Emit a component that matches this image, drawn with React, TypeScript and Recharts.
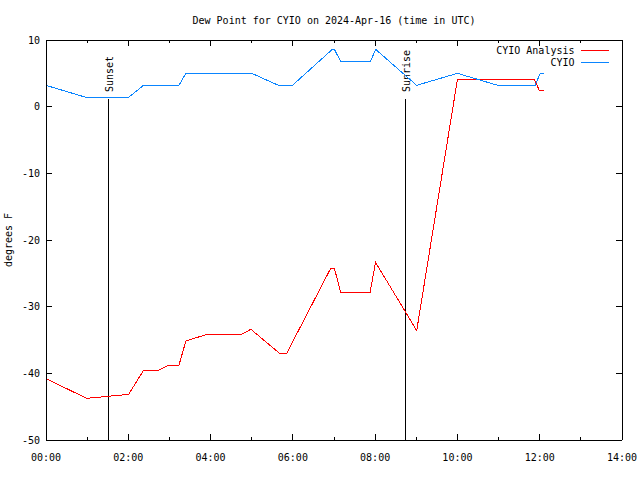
import React from 'react';
import { LineChart, Line, XAxis, YAxis, ReferenceLine } from 'recharts';

// ---- data ----
const TITLE = 'Dew Point for CYIO on 2024-Apr-16 (time in UTC)';
const Y_LABEL = 'degrees F';

const xTicks = [0, 1, 2, 3, 4, 5, 6, 7, 8, 9, 10, 11, 12, 13, 14];
const yTicks = [-50, -40, -30, -20, -10, 0, 10];

const analysisName = 'CYIO Analysis';
const analysisTimes = [0, 0.99, 2.01, 2.37, 2.73, 2.97, 3.23, 3.4, 3.94, 4.77, 4.98, 5.67, 5.85, 6.92, 7.01, 7.16, 7.88, 8.01, 9.01, 10.0, 11.87, 11.99, 12.1];
const analysisValues = [-40.8, -43.75, -43.15, -39.55, -39.55, -38.8, -38.8, -35.15, -34.1, -34.1, -33.4, -36.95, -37.0, -24.25, -24.25, -27.8, -27.8, -23.35, -33.6, 4.1, 4.1, 2.45, 2.45];

const obsName = 'CYIO';
const obsTimes = [0, 0.97, 2.01, 2.37, 3.23, 3.4, 5.0, 5.65, 5.99, 6.96, 7.01, 7.16, 7.89, 8.01, 9.01, 10.0, 10.98, 11.89, 12.01, 12.1];
const obsValues = [3.2, 1.4, 1.4, 3.2, 3.2, 5.0, 5.0, 3.2, 3.2, 8.6, 8.6, 6.8, 6.8, 8.6, 3.2, 5.0, 3.2, 3.2, 5.0, 5.0];

const sunEvents = ['Sunset', 'Sunrise'];
const sunTimes = [1.514, 8.733];
const sunLineTop = 1.15;

const RED = '#ff0000';
const BLUE = '#0a85ff';
const FONT = '"DejaVu Sans Mono", monospace';

const analysisData = analysisTimes.map((t, i) => ({ t, v: analysisValues[i] }));
const obsData = obsTimes.map((t, i) => ({ t, v: obsValues[i] }));

const fmtHour = (h: number) => `${String(h).padStart(2, '0')}:00`;

const BottomTick = (props: any) => {
  const { x, y, payload } = props;
  const h = payload.value;
  const major = h % 2 === 0;
  return (
    <g>
      <line x1={x} x2={x} y1={y} y2={y - (major ? 6 : 3)} stroke="#000" shapeRendering="crispEdges" />
      {major && (
        <text x={x} y={y + 20.5} textAnchor="middle" fontSize={10} fontFamily={FONT} fill="#000">
          {fmtHour(h)}
        </text>
      )}
    </g>
  );
};

const TopTick = (props: any) => {
  const { x, y, payload } = props;
  const major = payload.value % 2 === 0;
  return <line x1={x} x2={x} y1={y} y2={y + (major ? 6 : 3)} stroke="#000" shapeRendering="crispEdges" />;
};

const LeftTick = (props: any) => {
  const { x, y, payload } = props;
  return (
    <g>
      <line x1={x} x2={x + 6} y1={y} y2={y} stroke="#000" shapeRendering="crispEdges" />
      <text x={x - 6} y={y + 3.7} textAnchor="end" fontSize={10} fontFamily={FONT} fill="#000">
        {payload.value}
      </text>
    </g>
  );
};

const RightTick = (props: any) => {
  const { x, y } = props;
  return <line x1={x} x2={x - 6} y1={y} y2={y} stroke="#000" shapeRendering="crispEdges" />;
};

const SunLabel = (props: any) => {
  const { viewBox, text } = props;
  const x = viewBox.x + 5;
  const y = viewBox.y - 7;
  return (
    <text x={x} y={y} transform={`rotate(-90 ${x} ${y})`} textAnchor="start" fontSize={10} fontFamily={FONT} fill="#000">
      {text}
    </text>
  );
};

const legendItems = [
  { name: analysisName, color: RED },
  { name: obsName, color: BLUE },
];

export default function App() {
  return (
    <div style={{ position: 'absolute', left: 0, top: 0, width: 640, height: 480, background: '#fff' }}>
      <LineChart width={640} height={480} margin={{ top: 39, right: 17, bottom: 0, left: 0 }}>
        <XAxis
          xAxisId={0}
          dataKey="t"
          type="number"
          domain={[0, 14]}
          ticks={xTicks}
          interval={0}
          orientation="bottom"
          height={40}
          tickSize={0}
          tickMargin={0}
          tickLine={false}
          tick={BottomTick}
          axisLine={{ stroke: '#000', shapeRendering: 'crispEdges' }}
          allowDataOverflow
        />
        <XAxis
          xAxisId="top"
          dataKey="t"
          type="number"
          domain={[0, 14]}
          ticks={xTicks}
          interval={0}
          orientation="top"
          height={1}
          tickSize={0}
          tickMargin={0}
          tickLine={false}
          tick={TopTick}
          axisLine={{ stroke: '#000', shapeRendering: 'crispEdges' }}
          allowDataOverflow
        />
        <YAxis
          yAxisId={0}
          type="number"
          domain={[-50, 10]}
          ticks={yTicks}
          interval={0}
          width={46}
          tickSize={0}
          tickMargin={0}
          tickLine={false}
          tick={LeftTick}
          axisLine={{ stroke: '#000', shapeRendering: 'crispEdges' }}
          allowDataOverflow
        />
        <YAxis
          yAxisId="right"
          orientation="right"
          type="number"
          domain={[-50, 10]}
          ticks={yTicks}
          interval={0}
          width={1}
          tickSize={0}
          tickMargin={0}
          tickLine={false}
          tick={RightTick}
          axisLine={{ stroke: '#000', shapeRendering: 'crispEdges' }}
          allowDataOverflow
        />
        {sunEvents.map((name, i) => (
          <ReferenceLine
            key={name}
            xAxisId={0}
            yAxisId={0}
            segment={[
              { x: sunTimes[i], y: sunLineTop },
              { x: sunTimes[i], y: -50 },
            ]}
            stroke="#000"
            strokeWidth={1}
            shapeRendering="crispEdges"
            ifOverflow="visible"
            label={<SunLabel text={name} />}
          />
        ))}
        {/* invisible series so the mirrored top/right border axes get drawn */}
        <Line
          xAxisId="top"
          yAxisId="right"
          data={obsData}
          dataKey="v"
          type="linear"
          stroke="none"
          dot={false}
          activeDot={false}
          legendType="none"
          isAnimationActive={false}
        />
        <Line
          xAxisId={0}
          yAxisId={0}
          data={analysisData}
          dataKey="v"
          name={analysisName}
          type="linear"
          stroke={RED}
          strokeWidth={1}
          dot={false}
          activeDot={false}
          isAnimationActive={false}
          shapeRendering="crispEdges"
        />
        <Line
          xAxisId={0}
          yAxisId={0}
          data={obsData}
          dataKey="v"
          name={obsName}
          type="linear"
          stroke={BLUE}
          strokeWidth={1}
          dot={false}
          activeDot={false}
          isAnimationActive={false}
          shapeRendering="crispEdges"
        />
      </LineChart>
      <svg
        width={640}
        height={480}
        style={{ position: 'absolute', left: 0, top: 0, pointerEvents: 'none' }}
      >
        <text x={334} y={23.5} textAnchor="middle" fontSize={10} fontFamily={FONT} fill="#000">
          {TITLE}
        </text>
        <text
          x={12}
          y={240}
          transform="rotate(-90 12 240)"
          textAnchor="middle"
          fontSize={10}
          fontFamily={FONT}
          fill="#000"
        >
          {Y_LABEL}
        </text>
        {legendItems.map((item, i) => (
          <g key={item.name}>
            <text x={574.5} y={54 + i * 12} textAnchor="end" fontSize={10} fontFamily={FONT} fill="#000">
              {item.name}
            </text>
            <line
              x1={581}
              x2={609}
              y1={50.5 + i * 12}
              y2={50.5 + i * 12}
              stroke={item.color}
              strokeWidth={1}
              shapeRendering="crispEdges"
            />
          </g>
        ))}
      </svg>
    </div>
  );
}
